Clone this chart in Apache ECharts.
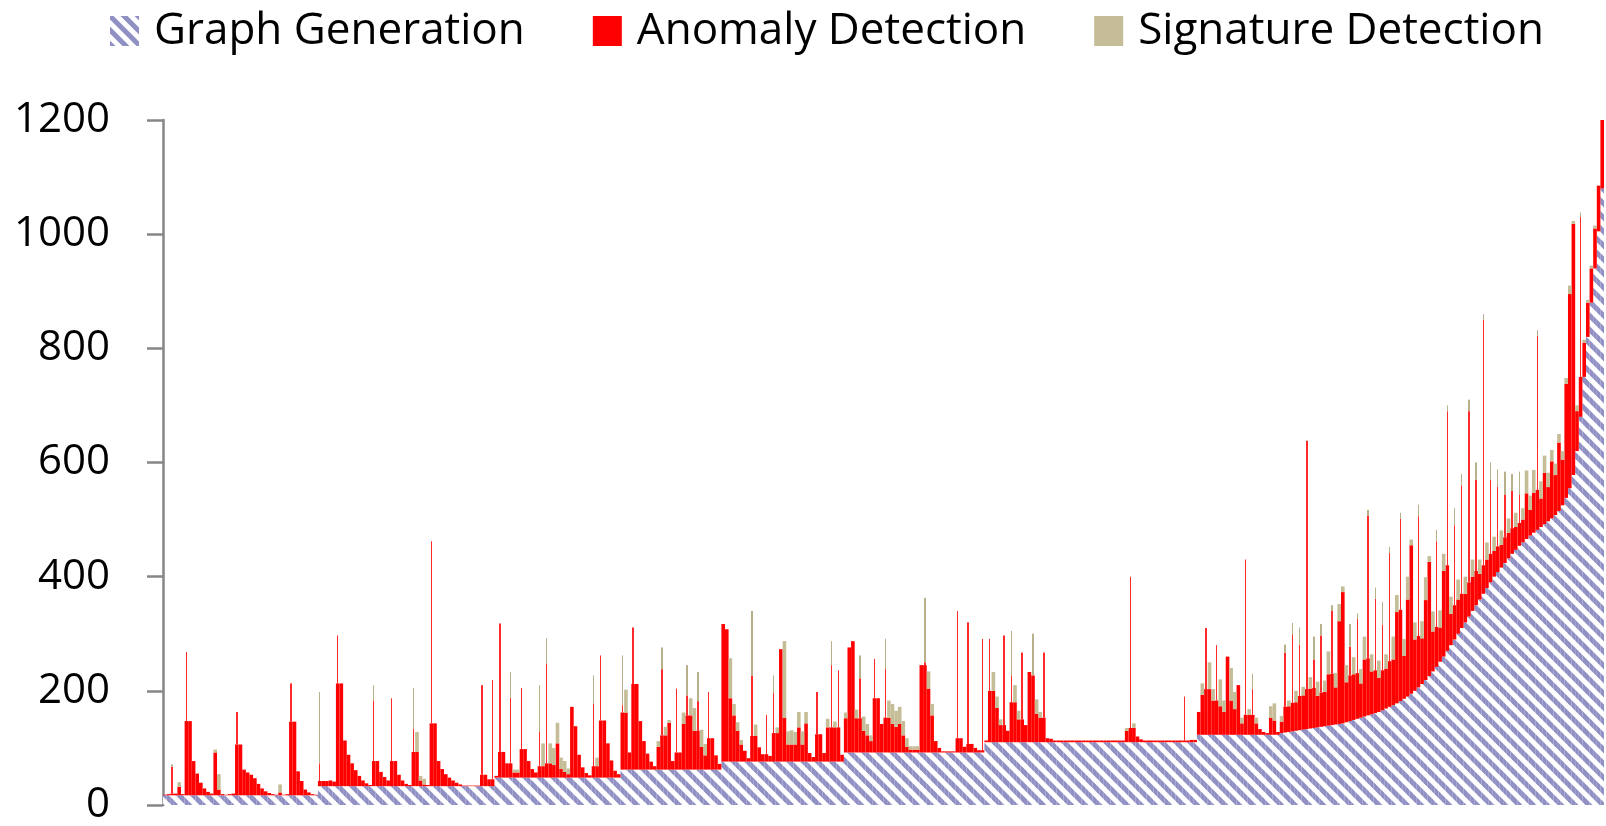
<!DOCTYPE html>
<html><head><meta charset="utf-8">
<script src="https://cdn.jsdelivr.net/npm/echarts@6/dist/echarts.min.js"></script>
<style>html,body{margin:0;padding:0;background:#fff}#c{width:1606px;height:826px}</style>
</head><body><div id="c"></div>
<script>
const legendNames = ['Graph Generation', 'Anomaly Detection', 'Signature Detection'];

const graphGeneration = [
17,17,17,17,17,17,17,17,17,17,
17,17,17,17,17,17,17,17,17,17,
17,17,17,17,17,17,17,17,17,17,
17,17,17,17,17,17,17,17,17,17,
17,17,17,33,33,33,33,33,33,33,
33,33,33,33,33,33,33,33,33,33,
33,33,33,33,33,33,33,33,33,33,
33,33,33,33,33,33,33,33,33,33,
33,33,33,33,33,33,33,33,33,33,
33,33,48,48,48,48,48,48,48,48,
48,48,48,48,48,48,48,48,48,48,
48,48,48,48,48,48,48,48,48,48,
48,48,48,48,48,48,48,62,62,62,
62,62,62,62,62,62,62,62,62,62,
62,62,62,62,62,62,62,62,62,62,
62,62,62,62,62,76,76,76,76,76,
76,76,76,76,76,76,76,76,76,76,
76,76,76,76,76,76,76,76,76,76,
76,76,76,76,76,76,76,76,76,92,
92,92,92,92,92,92,92,92,92,92,
92,92,92,92,92,92,92,92,92,92,
92,92,92,92,92,92,92,92,92,92,
92,92,92,92,92,92,92,92,110,110,
110,110,110,110,110,110,110,110,110,110,
110,110,110,110,110,110,110,110,110,110,
110,110,110,110,110,110,110,110,110,110,
110,110,110,110,110,110,110,110,110,110,
110,110,110,110,110,110,110,110,110,110,
110,110,110,110,110,110,110,123,123,123,
123,123,123,123,123,123,123,123,123,123,
123,123,123,123,123,123,123,123,123,123,
126,127,128,129,130,131,132,133,134,135,
136,137,138,139,140,141,142,143,145,147,
149,151,153,155,157,159,161,163,166,169,
172,175,178,182,186,190,195,200,206,212,
219,226,234,242,251,260,270,280,290,300,
310,320,330,340,350,360,370,380,390,400,
408,416,424,432,440,447,454,460,466,472,
477,482,487,492,497,502,508,515,525,538,
555,578,620,680,750,820,880,940,1005,1080
];

const anomalyDetection = [
1,2,50,3,15,2,251,130,60,38,
22,12,6,3,75,10,2,1,2,3,
146,89,45,40,36,30,20,12,7,4,
2,1,5,1,2,196,129,42,25,10,
5,2,1,40,9,9,10,8,264,180,
80,55,40,28,18,10,5,2,150,44,
25,16,10,154,44,20,10,4,2,100,
60,10,3,2,429,110,44,30,21,15,
10,6,3,1,1,1,1,1,177,20,
12,186,3,270,45,25,140,9,9,157,
50,29,15,9,80,20,200,25,22,60,
15,10,6,124,90,40,18,8,4,130,
20,214,100,60,30,12,6,113,100,30,
249,150,85,50,28,14,6,40,176,60,
82,15,142,30,80,130,95,68,120,40,
25,136,55,25,10,241,232,111,81,54,
30,19,6,150,45,25,13,82,10,120,
50,197,77,30,30,30,60,30,67,15,
8,122,48,15,60,169,60,160,12,60,
184,195,60,130,38,30,20,164,95,50,
146,61,50,45,50,30,10,5,5,5,
153,158,112,65,20,8,2,2,2,2,
248,25,10,228,15,8,4,199,3,181,
90,60,30,187,20,117,70,40,157,30,
123,117,50,43,157,7,6,3,3,3,
3,3,3,3,3,3,3,3,3,3,
3,3,3,3,3,3,3,20,290,25,
10,5,3,3,3,3,3,3,3,3,
3,3,3,80,3,4,4,40,70,187,
80,60,157,50,40,137,60,45,87,20,
307,35,80,20,10,5,3,30,25,5,
20,140,45,170,50,150,60,505,70,120,
55,160,60,90,200,65,180,230,70,130,
80,175,60,100,350,75,200,60,150,70,
270,80,160,320,75,170,260,90,300,80,
140,200,70,220,60,150,420,55,200,60,
250,50,360,60,220,45,480,50,180,45,
150,40,120,45,110,40,90,40,80,45,
70,340,50,90,60,100,70,120,80,200,
340,440,70,350,60,60,60,70,80,120
];

const signatureDetection = [
0,0,4,0,8,0,0,0,0,0,
0,0,0,0,5,27,0,0,0,0,
0,0,0,0,0,0,0,0,0,0,
0,0,14,0,0,0,0,0,0,0,
0,0,0,125,0,0,0,0,0,0,
0,0,0,0,0,0,0,0,27,0,
0,0,0,0,0,0,0,0,0,72,
35,8,10,0,0,0,0,0,0,0,
0,0,0,0,0,0,0,0,0,0,
0,0,0,0,0,0,45,5,5,0,
0,0,0,0,82,40,44,35,30,36,
20,19,10,0,0,0,0,0,0,49,
15,0,0,0,0,0,0,87,40,0,
0,0,0,0,0,0,0,10,38,15,
5,0,0,0,20,53,30,40,51,30,
20,0,0,0,0,0,0,70,20,15,
8,0,0,114,20,0,0,0,0,31,
10,0,134,23,25,22,27,23,20,0,
0,0,0,0,15,42,10,0,0,10,
0,0,15,40,25,20,10,0,0,0,
53,30,35,28,30,25,15,6,6,6,
0,113,30,20,0,0,0,0,0,0,
0,0,0,0,0,0,0,0,0,0,
33,20,10,0,0,78,30,15,0,0,
0,73,25,10,0,0,0,0,0,0,
0,0,0,0,0,0,0,0,0,0,
0,0,0,0,0,0,0,5,0,8,
0,0,0,0,0,0,0,0,0,0,
0,0,0,0,0,0,0,0,20,0,
47,20,0,47,20,0,57,30,0,10,
0,10,27,10,0,0,0,20,30,0,
10,14,10,20,20,30,15,0,20,40,
25,20,20,40,10,25,30,10,30,40,
30,10,25,40,10,30,20,30,40,25,
10,40,30,10,30,40,10,30,20,30,
40,10,35,20,30,30,10,30,30,35,
20,30,20,30,30,25,10,30,30,25,
30,25,40,25,30,25,40,20,40,25,
40,10,30,30,25,20,20,15,15,10,
15,5,10,8,5,5,5,5,0,0
];

const N = graphGeneration.length;
const categories = graphGeneration.map((_, i) => String(i + 1));

// Rendering helpers: tall isolated spikes are drawn as thin lines like the original
const topAbove = i => (i < 0 || i >= N) ? 0 : anomalyDetection[i] + signatureDetection[i];
const isSpike = anomalyDetection.map((_, i) => {
  const t = topAbove(i), n = Math.max(topAbove(i - 1), topAbove(i + 1));
  return t > 1.3 * n && t - n > 50;
});
const redAt = i => (i < 0 || i >= N) ? 0 : anomalyDetection[i];
const anomalyFill = anomalyDetection.map((r, i) =>
  isSpike[i] ? Math.min(r, Math.max(redAt(i - 1), redAt(i + 1))) : r);

function thin(c) {
  const t = 'rgba(255,255,255,0)';
  return { type: 'linear', x: 0, y: 0, x2: 1, y2: 0, colorStops: [
    { offset: 0, color: t }, { offset: 0.3, color: t },
    { offset: 0.3, color: c }, { offset: 0.7, color: c },
    { offset: 0.7, color: t }, { offset: 1, color: t }] };
}
const anomalySpike = anomalyDetection.map((r, i) =>
  ({ value: r - anomalyFill[i], itemStyle: { color: thin('#ff2a2a') } }));
const signatureItems = signatureDetection.map((v, i) =>
  isSpike[i] ? { value: v, itemStyle: { color: thin('#b8b08a') } } : v);

function hatchPattern() {
  const s = 14;
  const c = document.createElement('canvas');
  c.width = s; c.height = s;
  const g = c.getContext('2d');
  g.fillStyle = '#ffffff';
  g.fillRect(0, 0, s, s);
  g.strokeStyle = '#9090c4';
  g.lineWidth = 5;
  for (const k of [-s, 0, s]) {
    g.beginPath();
    g.moveTo(k - 2, -2);
    g.lineTo(k + s + 2, s + 2);
    g.stroke();
  }
  return c;
}

const barCommon = { type: 'bar', stack: 't', barCategoryGap: '0%', barGap: '0%', silent: true };

const chart = echarts.init(document.getElementById('c'), null, { renderer: 'canvas' });
chart.setOption({
  animation: false,
  textStyle: { fontFamily: 'Open Sans' },
  legend: {
    top: 4,
    left: 105,
    itemWidth: 29,
    itemHeight: 30,
    itemGap: 68,
    selectedMode: false,
    textStyle: { fontSize: 44, color: '#000', fontFamily: 'Open Sans', padding: [0, 0, 0, 10] },
    data: legendNames.map(n => ({ name: n, icon: 'rect' }))
  },
  grid: { left: 163, right: 2, top: 120, bottom: 15 },
  xAxis: { type: 'category', data: categories, show: false },
  yAxis: {
    type: 'value', min: 0, max: 1200, interval: 200,
    axisLine: { show: true, lineStyle: { color: '#868686', width: 2.5 } },
    axisTick: { show: true, length: 16, lineStyle: { color: '#868686', width: 2.5 } },
    axisLabel: { fontSize: 42, color: '#000', margin: 53, fontFamily: 'Open Sans',
      formatter: v => String(v) },
    splitLine: { show: false }
  },
  series: [
    Object.assign({ name: legendNames[0], data: graphGeneration,
      itemStyle: { color: { image: hatchPattern(), repeat: 'repeat' } } }, barCommon),
    Object.assign({ name: legendNames[1], data: anomalyFill,
      itemStyle: { color: '#ff0000' } }, barCommon),
    Object.assign({ name: legendNames[1], data: anomalySpike,
      itemStyle: { color: '#ff0000' } }, barCommon),
    Object.assign({ name: legendNames[2], data: signatureItems,
      itemStyle: { color: '#c4bd97' } }, barCommon)
  ]
});
</script>
</body></html>
